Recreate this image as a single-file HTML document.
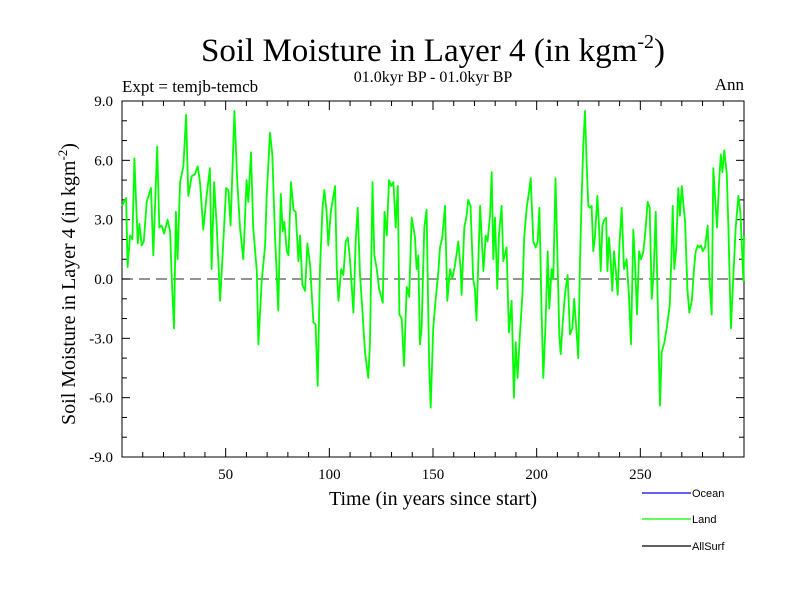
<!DOCTYPE html>
<html><head><meta charset="utf-8"><style>
body{margin:0;background:#fff;}
svg{display:block;}
.serif{font-family:"Liberation Serif",serif;}
.sans{font-family:"Liberation Sans",sans-serif;}
</style></head><body>
<svg id="chart" width="800" height="600" viewBox="0 0 800 600">
<rect x="0" y="0" width="800" height="600" fill="#fff"/>
<text x="433" y="61" text-anchor="middle" class="serif" font-size="33">Soil Moisture in Layer 4 (in kgm<tspan dy="-13" font-size="20">-2</tspan><tspan dy="13">)</tspan></text>
<text x="433" y="82" text-anchor="middle" class="serif" font-size="16">01.0kyr BP - 01.0kyr BP</text>
<text x="122" y="92" class="serif" font-size="17">Expt = temjb-temcb</text>
<text x="744" y="90" text-anchor="end" class="serif" font-size="17">Ann</text>
<text transform="translate(75,284) rotate(-90)" text-anchor="middle" class="serif" font-size="20">Soil Moisture in Layer 4 (in kgm<tspan dy="-8" font-size="13">-2</tspan><tspan dy="8">)</tspan></text>
<text x="433" y="505" text-anchor="middle" class="serif" font-size="20">Time (in years since start)</text>
<g id="axes"></g>
<g id="series"></g>
<g>
<line x1="642" y1="493" x2="691" y2="493" stroke="#0000ff" stroke-width="1.2"/>
<text x="692" y="497" class="sans" font-size="11">Ocean</text>
<line x1="642" y1="519" x2="691" y2="519" stroke="#00ff00" stroke-width="1.2"/>
<text x="692" y="523" class="sans" font-size="11">Land</text>
<line x1="642" y1="546" x2="691" y2="546" stroke="#000" stroke-width="1.2"/>
<text x="692" y="550" class="sans" font-size="11">AllSurf</text>
</g>
</svg>
<script>
const years = [0,2,2.7,3.9,5,6,6.8,7.6,8.4,9.5,10.5,11.9,14,15.1,17,18,19.1,20.3,22,23.2,24,25.1,26,26.8,28,29.6,30.9,32,33.6,35.2,36.5,37.6,39.2,40.8,42.4,43.2,44.4,45.7,47.3,48.4,50.2,51.3,52.4,54.2,55.5,56.9,58.5,60.1,60.9,62.2,63.3,65,65.8,67.4,69,
69.8,71.4,72.5,73.8,75.4,76.6,77.5,78.3,79.5,80.3,81.5,82.7,83.8,85.1,85.9,87,88.3,89.4,90.7,92.3,93.4,94.4,95.5,96.7,97.6,98.7,99.5,100.7,102.8,103.6,104.4,105.7,106.8,107.9,108.9,110,111.6,112.7,113.7,114.8,115.9,117.2,118.8,119.6,120.8,121.7,122.9,124,125.8,126.6,127.7,128.8,129.8,130.9,132,133,133.8,134.9,136,137.3,138.5,139.7,140.9,
141.3,142.1,142.9,143.7,144.5,145.8,146.9,148.1,148.9,150.1,151.3,152.6,153.4,154.5,155.8,156.9,158.2,159.3,160.6,162.2,163.3,163.8,165.1,166.2,167,168.1,169.4,170.2,171,172.7,174.3,175.4,176.3,177.5,178.3,179.1,179.9,181,181.8,183.1,183.9,185.5,186.6,187.9,189,189.9,190.8,191.9,193.1,194,195.2,196.3,197.1,198.4,199.5,200.5,201.3,202.4,203.2,204.3,205.3,206.1,207.2,208,209.1,210.1,210.9,211.6,212.5,213.6,214.9,216.1,217.2,218.1,
219.3,220.1,220.9,221.7,222.5,223.3,224.1,224.9,225.7,226.5,227.3,228.1,229.3,230.1,230.9,231.7,232.6,233.5,234.1,234.9,235.7,236.5,237.3,238.1,239.1,239.9,241,242.1,243.4,244.5,245.5,246.6,247.4,248.4,249.4,250.3,251.5,252.6,253.5,254.5,255.5,256.4,257.4,258.4,259.5,260.3,261.6,262.7,264.2,265.1,265.6,266.4,267.2,268.3,269.1,270,270.8,271.6,272.7,273.6,274.8,275.9,276.7,277.7,278.5,279.3,280.1,281.2,282.5,283.3,284.4,285.2,286,287,288,288.8,289.6,290.5,291.7,292.5,293.7,294.9,296,297.3,298.2,299.2,299.7,300];
const landValues = [3.7,4.1,0.6,2.2,2.0,6.1,3.9,1.8,2.8,1.7,1.9,3.9,4.6,1.2,6.7,2.6,2.7,2.3,3.0,2.4,0,-2.5,3.4,1.0,4.9,5.7,8.3,4.2,5.2,5.3,5.7,4.9,2.5,4.2,5.6,0.5,4.9,2.6,-1.1,0.9,4.6,4.5,2.7,8.5,5.1,2.6,1.0,5.0,3.9,6.4,2.6,0.4,-3.3,-0.1,1.7,
4.2,7.4,6.3,2.2,-1.6,4.3,2.4,2.9,1.4,1.2,4.9,3.5,3.4,0.9,2.2,-0.3,-0.6,1.8,0.7,-2.2,-2.3,-5.4,0.5,3.6,4.5,3.4,1.7,3.4,4.7,0.5,-1.1,0.5,0.2,1.9,2.1,0.9,-1.7,1.9,3.6,0.2,-1.5,-3.7,-5.0,-3.2,4.9,1.2,0.5,-0.5,-1.2,3.4,2.2,5.0,4.7,4.9,2.6,4.7,-1.8,-2.0,-4.4,-0.4,-0.9,3.1,2.4,
2.1,0.5,1.2,-3.3,-2.5,2.6,3.5,-4.2,-6.5,-2.5,-1.0,0.4,1.6,2.1,3.7,-1.1,0.5,0,0.7,1.9,0.5,-0.8,2.6,3.2,4.0,3.7,0,-0.5,-2.1,3.7,0.4,2.2,1.9,3.2,5.4,1.0,3.1,-0.5,2.2,3.7,0.9,1.6,-2.7,-1.1,-6.0,-3.2,-5.0,-2.8,-0.8,2.1,3.6,4.4,5.1,1.9,1.6,1.9,3.6,-1.7,-5.0,-2.2,1.4,-1.5,0.5,0,5.1,0.9,-2.8,-3.8,-2.3,-0.8,0.2,-2.8,-2.5,-1.0,
-2.8,-4.0,0.9,4.2,6.8,8.5,5.9,3.7,3.6,3.7,1.4,2.1,4.2,2.6,0.4,2.7,3.0,3.1,0.4,2.1,0.9,-0.6,1.4,0.5,-0.8,1.7,3.6,0.5,1.0,-0.8,-3.3,2.5,1.0,-1.8,1.4,1.0,1.4,2.6,3.9,3.6,-1.0,0.2,3.4,-1.1,-6.4,-3.7,-3.2,-2.5,-1.3,1.4,3.7,0.5,1.4,4.6,3.2,4.7,3.7,2.9,-0.5,-1.7,-1.1,0.5,1.4,1.7,1.6,1.7,1.4,1.6,2.7,0,-1.8,5.6,4.2,2.6,4.9,6.3,5.4,6.5,5.3,2.6,-2.5,0.2,2.6,4.2,3.4,1.2,-0.1,2.2];
const yTickValues = [-9,-6,-3,0,3,6,9];
const yTickLabels = ["-9.0","-6.0","-3.0","0.0","3.0","6.0","9.0"];
const xTickValues = [50,100,150,200,250];
const xTickLabels = ["50","100","150","200","250"];

const L=122,R=744,T=101,B=457;
const xMin=0,xMax=300,yMin=-9,yMax=9;
function sx(v){return L+(v-xMin)/(xMax-xMin)*(R-L);}
function sy(v){return B-(v-yMin)/(yMax-yMin)*(B-T);}
const NS="http://www.w3.org/2000/svg";
const axes=document.getElementById('axes');
const series=document.getElementById('series');
function mk(tag,attrs,parent){const e=document.createElementNS(NS,tag);for(const k in attrs)e.setAttribute(k,attrs[k]);parent.appendChild(e);return e;}

const zl=mk('line',{x1:L,x2:R,y1:sy(0),y2:sy(0),stroke:'#555','stroke-width':1.3,'stroke-dasharray':'11,6'},axes);



const fr=mk('rect',{x:L,y:T,width:R-L,height:B-T,fill:'none',stroke:'#000','stroke-width':1},axes);



for(let v=yMin;v<=yMax;v++){
  const major=(v%3===0);const len=major?8:5;const y=sy(v);
  const t1=mk('line',{x1:L,x2:L+len,y1:y,y2:y,stroke:'#000','stroke-width':1},axes);
  
  
  const t2=mk('line',{x1:R,x2:R-len,y1:y,y2:y,stroke:'#000','stroke-width':1},axes);
  
  
}
yTickValues.forEach((v,i)=>{
  const t=mk('text',{x:L-9,y:sy(v)+5,'text-anchor':'end','font-size':15,'class':'serif'},axes);
  t.textContent=yTickLabels[i];
  
  
});
for(let v=10;v<xMax;v+=10){
  const major=(v%50===0);const len=major?9:5;const x=sx(v);
  const t1=mk('line',{x1:x,x2:x,y1:B,y2:B-len,stroke:'#000','stroke-width':1},axes);
  
  
  const t2=mk('line',{x1:x,x2:x,y1:T,y2:T+len,stroke:'#000','stroke-width':1},axes);
  
  
}
xTickValues.forEach((v,i)=>{
  const t=mk('text',{x:sx(v),y:B+22,'text-anchor':'middle','font-size':15,'class':'serif'},axes);
  t.textContent=xTickLabels[i];
  
  
});

const pts=years.map((yr,i)=>sx(yr).toFixed(1)+','+sy(landValues[i]).toFixed(1)).join(' ');
const pl=mk('polyline',{points:pts,fill:'none',stroke:'#00ff00','stroke-width':1.8,'stroke-linejoin':'round'},series);


</script>
</body></html>
